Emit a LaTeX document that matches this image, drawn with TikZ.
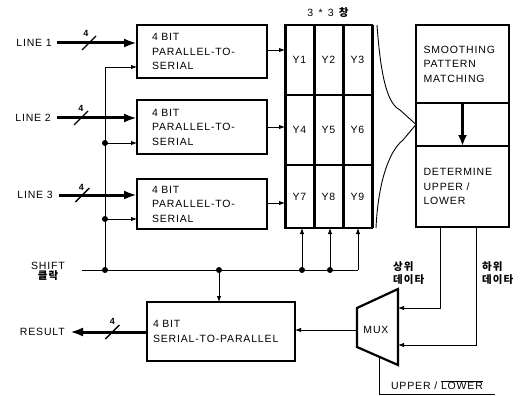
\documentclass[tikz,border=0pt]{standalone}
\usepackage{fontspec}
\setmainfont{Liberation Sans}[LetterSpace=8]
\newfontfamily\krfont{Noto Sans CJK KR}[LetterSpace=10]
\usepackage{tikz}
\usetikzlibrary{
  arrows.meta,
  positioning,
  calc
}
\tikzset{
  blk/.style={
    draw, line width=2pt, outer sep=0pt, inner sep=0pt, align=left
  },
  pts/.style={blk, minimum width=130pt, minimum height=53pt, text width=100pt},
  cell/.style={draw, line width=1.6pt, outer sep=0pt, inner sep=0pt, minimum width=29pt},
  lbl/.style={inner sep=0pt, align=left},
  krlbl/.style={lbl, font=\krfont\bfseries\fontsize{10.5}{13}\selectfont},
  widthtag/.style={inner sep=0pt, font=\fontsize{9}{10}\selectfont\bfseries},
  bus/.style={line width=0.9pt},
  clk/.style={bus, -{Latex[length=6pt,width=4.5pt]}},
  data/.style={line width=3pt, -{Latex[length=13pt,width=9pt]}},
  slash/.style={line width=1.3pt},
  dot/.style={circle, fill, inner sep=0pt, minimum size=6pt}
}

\begin{document}
\begin{tikzpicture}[x=1pt, y=-1pt, font=\fontsize{10.5}{14.5}\selectfont]
  \useasboundingbox (0,0) rectangle (528,396);

  % serial converters
  \node[pts] (p1) at (202,51.5) {4 BIT\\PARALLEL-TO-\\SERIAL};
  \node[pts] (p2) at (202,127) {4 BIT\\PARALLEL-TO-\\SERIAL};
  \node[pts, minimum height=50pt] (p3) at (202,204) {4 BIT\\PARALLEL-TO-\\SERIAL};

  \node[lbl, anchor=east] (l1) at (52,43) {LINE 1};
  \node[lbl, anchor=east] (l2) at (51,118) {LINE 2};
  \node[lbl, anchor=east] (l3) at (53,195) {LINE 3};

  \draw[data] ([xshift=5pt]l1.east) -- coordinate[pos=0.4] (s1) (p1.west |- l1.east);
  \draw[data] ([xshift=6pt]l2.east) -- coordinate[pos=0.3] (s2) (p2.west |- l2.east);
  \draw[data] ([xshift=6pt]l3.east) -- coordinate[pos=0.3] (s3) (p3.west |- l3.east);
  \draw[slash] ([shift={(-7,7)}]s1) -- ([shift={(7,-7)}]s1);
  \draw[slash] ([shift={(-7,7)}]s2) -- ([shift={(7,-7)}]s2);
  \draw[slash] ([shift={(-7,7)}]s3) -- ([shift={(7,-7)}]s3);
  \node[widthtag] (w1) at ([shift={(-3,-10)}]s1) {4};
  \node[widthtag] (w2) at ([shift={(0,-10)}]s2) {4};
  \node[widthtag] (w3) at ([shift={(-1,-8)}]s3) {4};

  % 3*3 window
  \node[cell, minimum height=70pt] (y1) at (299.5,60) {Y1};
  \node[cell, minimum height=70pt, right=0pt of y1] (y2) {Y2};
  \node[cell, minimum height=70pt, right=0pt of y2] (y3) {Y3};
  \node[cell, minimum height=70pt, below=0pt of y1] (y4) {Y4};
  \node[cell, minimum height=70pt, below=0pt of y2] (y5) {Y5};
  \node[cell, minimum height=70pt, below=0pt of y3] (y6) {Y6};
  \node[cell, minimum height=63pt, below=0pt of y4] (y7) {Y7};
  \node[cell, minimum height=63pt, below=0pt of y5] (y8) {Y8};
  \node[cell, minimum height=63pt, below=0pt of y6] (y9) {Y9};
  \draw[line width=3pt] (y1.north west) -- (y7.south west);
  \draw[line width=3pt] (y2.north west) -- (y8.south west);
  \draw[line width=3pt] (y3.north west) -- (y9.south west);
  \draw[line width=3pt] (y3.north east) -- (y9.south east);
  \node[lbl] (wl) at (328,13) {3\enspace*\enspace3\enspace{\krfont\bfseries 창}};

  \draw[clk] ([yshift=1.5pt]p1.east) -- ([yshift=1.5pt]p1.east -| y1.west);
  \draw[clk] (p2.east) -- (p2.east -| y4.west);
  \draw[clk] ([yshift=1pt]p3.east) -- ([yshift=1pt]p3.east -| y7.west);

  % smoothing / decision
  \node[blk, minimum width=93pt, minimum height=78pt, text width=78pt] (smooth) at (462.5,64)
    {SMOOTHING\\PATTERN\\MATCHING};
  \node[blk, minimum width=93pt, minimum height=43pt, below=0pt of smooth] (mid) {};
  \node[blk, minimum width=93pt, minimum height=81pt, text width=78pt, below=0pt of mid] (determ)
    {DETERMINE\\UPPER /\\LOWER};
  \draw[line width=3.5pt, -{Latex[length=11pt,width=9pt]}] (mid.north) -- (mid.south);

  \draw[bus] ([xshift=5pt]y3.north east) .. controls (381,80) and (388,104) .. (400,110)
    -- (mid.west) -- (403,140) .. controls (388,152) and (378,185) .. ([xshift=4pt]y9.south east);

  % shift clock
  \node[lbl] (shl) at (48,266) {SHIFT};
  \node[krlbl, below=1pt of shl] (shk) {클락};
  \coordinate (sh) at (82,270);
  \node[dot] (d0) at (105,270) {};
  \node[dot] (d2) at (105,143) {};
  \node[dot] (d3) at (105,219) {};
  \node[dot] (d4) at (219,270) {};
  \node[dot] (d5) at (302,270) {};
  \node[dot] (d6) at (330,270) {};
  \coordinate (c9) at (358,270);
  \draw[bus] (sh) -- (c9);
  \draw[clk] (d0.center) |- ([yshift=-15.5pt]p1.west);
  \draw[clk] (d2.center) -- (d2 -| p2.west);
  \draw[clk] (d3.center) -- (d3 -| p3.west);
  \draw[clk] (d5.center) -- (d5 |- y7.south);
  \draw[clk] (d6.center) -- (d6 |- y8.south);
  \draw[clk] (c9) -- (c9 |- y9.south);

  % output side
  \node[blk, minimum width=148pt, minimum height=59pt, text width=136pt] (s2p) at (221,331.5)
    {4 BIT\\SERIAL-TO-PARALLEL};
  \draw[clk] (d4.center) -- (d4 |- s2p.north);
  \node[lbl, anchor=east] (res) at (65,332) {RESULT};
  \draw[data] (s2p.west |- res.east) -- coordinate[pos=0.45] (s4) ([xshift=5pt]res.east);
  \draw[slash] ([shift={(-7,7)}]s4) -- ([shift={(7,-7)}]s4);
  \node[widthtag] (w4) at ([shift={(0,-11)}]s4) {4};

  \coordinate (m1) at (357,308);
  \coordinate (m2) at (398,289);
  \coordinate (m3) at (398,365);
  \coordinate (m4) at (357,347);
  \draw[line width=2.2pt] (m1) -- (m2) -- (m3) -- (m4) -- cycle;
  \node[lbl] (mux) at (376,330) {MUX};
  \coordinate (mo) at (357,330);
  \draw[clk] (mo) -- (mo -| s2p.east);

  \coordinate (uo) at ([xshift=-22.5pt]determ.south);
  \coordinate (lo) at ([xshift=13.5pt]determ.south);
  \draw[clk] (uo) |- (398,308);
  \draw[clk] (lo) |- (398,345);
  \node[krlbl, anchor=west] (upl) at (393,273.5) {상위\\데이타};
  \node[krlbl, anchor=west] (lol) at (482,273.5) {하위\\데이타};

  \coordinate (ms) at (379,356.7);
  \coordinate (se) at (495,394);
  \draw[bus] (ms) |- (se);
  \node[lbl] (sel) at (437,385) {UPPER / $\overline{\mbox{LOWER}}$};
\end{tikzpicture}
\end{document}
